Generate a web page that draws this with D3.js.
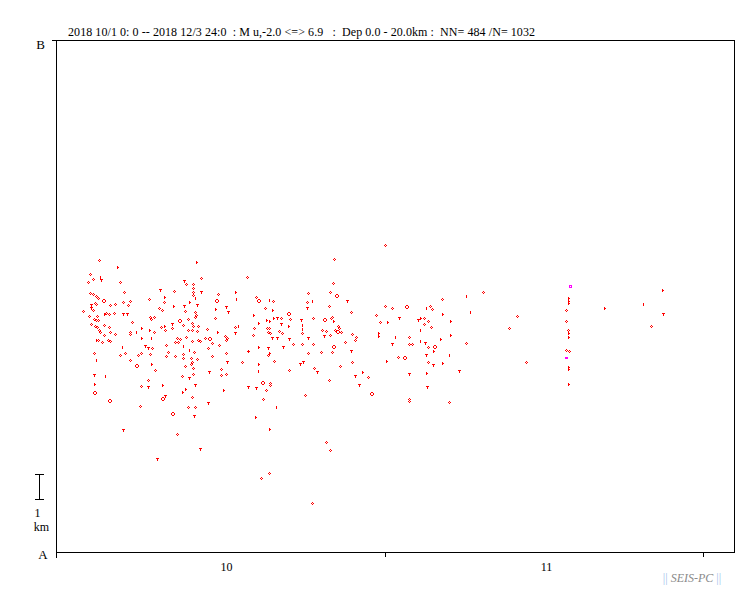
<!DOCTYPE html>
<html>
<head>
<meta charset="utf-8">
<script src="https://cdn.jsdelivr.net/npm/d3@7"></script>
<style>
body { margin: 0; background: #fff; }
text { font-family: "Times New Roman", "Liberation Serif", serif; }
</style>
</head>
<body>
<svg id="canvas" width="751" height="593"></svg>
<script>
// time axis: days since 2018-10-01 00:00, distance along A-B in km
let titleText = '2018 10/1 0: 0 -- 2018 12/3 24:0  : M u,-2.0 <=> 6.9   :  Dep 0.0 - 20.0km :  NN= 484 /N= 1032'
let monthStarts = [0, 31, 61]
let monthLabels = ['10', '11']
let monthLabelDays = [16.0, 46.2]

// event classes read from the symbols
let diamonds = [
  [3.99,11.39],[3.14,10.85],[3.43,10.65],[2.95,10.53],[5.98,10.53],[3.14,10.10],[3.40,10.08],[3.68,10.00],
  [3.84,9.91],[6.35,10.14],[3.59,9.74],[3.65,9.67],[5.03,9.64],[5.50,9.67],[6.92,9.79],[6.73,9.64],
  [2.48,9.40],[3.05,9.21],[3.43,9.45],[3.78,9.23],[3.52,9.10],[3.71,9.06],[3.90,9.06],[4.60,9.32],
  [4.91,9.30],[5.35,9.32],[7.05,8.98],[3.24,8.91],[3.56,8.83],[3.78,8.78],[4.44,8.88],[4.94,8.78],
  [3.96,8.67],[4.06,8.59],[5.03,8.59],[3.84,8.27],[4.47,8.46],[4.22,8.20],[4.79,8.28],[5.00,8.24],
  [5.50,8.52],[6.92,8.59],[6.92,8.53],[6.20,9.77],[8.71,9.87],[8.75,9.19],[8.85,9.10],[9.13,9.19],
  [9.16,8.59],[9.63,9.53],[9.94,9.45],[10.13,9.75],[11.07,10.18],[12.18,10.46],[12.81,10.46],[13.62,10.69],
  [12.81,10.30],[12.81,10.14],[12.81,10.04],[12.08,9.43],[13.03,9.39],[13.15,9.26],[13.03,9.17],[12.39,9.09],
  [10.89,8.75],[11.87,8.85],[12.74,8.96],[12.81,8.83],[13.28,8.83],[10.20,8.67],[9.79,8.78],[12.34,8.67],
  [12.77,8.67],[13.19,8.64],[14.19,8.70],[15.23,10.07],[14.94,9.13],[16.83,8.78],[17.96,10.73],[18.57,8.74],
  [18.53,8.46],[15.89,8.43],[16.05,8.36],[15.92,8.28],[13.94,8.37],[14.66,8.15],[15.29,8.07],[11.33,8.37],
  [11.58,8.32],[12.15,8.39],[10.32,8.07],[10.51,7.80],[11.11,8.19],[11.45,8.19],[12.77,8.25],[13.34,8.28],
  [13.53,8.25],[12.93,7.80],[14.28,7.98],[15.98,7.78],[14.60,7.64],[11.92,7.72],[11.92,7.57],[12.68,7.59],
  [13.22,7.53],[11.11,7.64],[10.29,7.66],[8.75,7.75],[8.97,7.98],[7.96,7.76],[7.67,7.68],[6.45,7.78],
  [5.98,7.68],[3.52,7.76],[6.92,7.49],[9.28,7.10],[12.11,7.25],[12.62,7.33],[12.84,7.19],[12.72,7.43],
  [15.51,7.14],[15.51,6.90],[15.98,6.94],[17.49,7.41],[12.84,6.94],[11.80,6.86],[7.90,6.48],[8.56,6.71],
  [12.77,6.04],[7.86,5.70],[12.34,5.65],[13.06,5.65],[11.33,4.61],
  [30.99,11.98],[26.18,11.43],[26.08,10.50],[23.72,10.10],[25.80,10.14],[18.81,9.95],[20.42,9.79],[23.57,9.77],
  [25.70,9.60],[19.66,9.52],[27.78,9.36],[30.14,9.25],[31.65,9.52],[30.99,9.61],[35.21,9.60],[35.37,9.50],
  [36.37,9.87],[40.24,10.14],[34.67,9.13],[35.05,9.01],[34.67,8.89],[35.33,8.80],[33.26,8.41],[33.26,8.11],
  [33.48,8.11],[35.02,8.00],[38.64,8.15],[30.52,8.97],[32.22,7.63],[35.05,7.41],[33.26,5.99],[33.26,5.91],
  [37.03,5.85],[29.39,6.82],[27.87,7.41],[26.74,7.25],[27.87,8.50],[28.25,8.40],[28.16,8.28],[27.21,8.19],
  [26.81,8.61],[26.24,8.67],[26.62,8.75],[26.55,8.84],[25.96,9.19],[25.86,9.13],[25.80,8.46],[25.99,7.80],
  [25.04,8.66],[25.42,8.62],[24.16,8.11],[24.95,7.80],[23.72,7.76],[24.29,7.19],[21.87,7.10],[25.70,6.71],
  [23.44,6.12],[22.30,8.11],[23.10,8.11],[23.15,8.55],[24.19,9.13],[22.02,9.09],[21.17,9.13],[20.93,8.63],
  [21.27,8.54],[19.85,8.76],[20.04,8.76],[19.95,8.58],[20.13,8.57],[19.89,7.69],[20.48,7.45],[18.06,7.86],
  [20.08,6.59],[20.08,6.51],[19.76,6.32],[19.47,5.96],[25.39,4.30],[25.77,3.98],[20.01,3.09],[19.26,2.89],
  [24.07,1.91],[43.45,9.21],[42.69,8.74],[44.30,7.41],[48.07,9.44],[48.07,9.01],[48.27,8.66],[48.07,7.88],
  [48.30,7.84],[56.10,8.81]
]
let rings = [
  [4.37,9.79],[11.55,9.03],[15.04,9.80],[14.35,8.33],[7.46,7.25],[3.46,6.22],[4.91,5.89],[9.91,5.96],
  [10.86,5.40],[26.31,9.99],[18.95,9.80],[21.78,9.28],[32.97,9.58],[35.59,8.00],[32.73,7.57],[29.64,6.16],
  [26.40,8.61],[26.02,8.00],[25.23,9.06],[19.38,6.61]
]
let tees = [
  [3.18,9.65],[3.18,9.53],[6.26,9.31],[6.64,9.28],[9.75,10.25],[11.96,10.60],[13.62,10.17],[13.19,9.65],
  [11.96,9.61],[10.89,8.89],[15.98,9.57],[16.17,9.39],[16.80,8.57],[8.56,7.97],[8.31,8.03],[16.08,7.42],
  [14.38,7.03],[12.46,6.80],[3.49,6.91],[8.62,6.46],[13.06,6.52],[10.22,6.08],[12.93,5.32],[14.28,5.83],
  [18.06,6.43],[6.23,4.77],[9.44,3.63],[13.50,4.02],[27.40,9.82],[23.57,9.53],[34.10,9.06],[34.71,8.16],
  [34.86,7.71],[32.31,9.15],[31.65,8.11],[35.52,7.29],[33.26,6.96],[37.97,7.08],[34.95,6.43],[28.54,6.51],
  [28.16,6.89],[27.75,7.86],[25.17,8.43],[24.57,7.03],[23.19,7.42],[22.94,7.36],[21.93,8.31],[21.36,8.02],
  [23.72,8.37],[23.06,9.06],[20.74,9.15],[21.17,8.89],[20.32,8.37],[20.77,8.37],[19.95,7.98],[18.81,6.42],
  [57.23,9.28],[4.18,10.61]
]
let sideTicks = [
  [4.41,9.31],[3.68,8.28],[7.93,8.74],[7.93,8.35],[8.66,8.67],[10.07,9.95],[10.92,9.60],[13.09,11.32],
  [12.43,9.78],[10.07,8.83],[16.77,10.14],[14.94,9.49],[18.53,9.27],[15.10,8.59],[8.85,7.34],[3.52,6.55],
  [9.88,6.52],[12.08,6.38],[11.77,6.24],[15.64,6.32],[20.27,9.44],[36.37,9.31],[34.26,9.13],[37.07,9.01],
  [37.07,8.46],[36.15,8.32],[35.46,7.84],[31.15,8.97],[30.27,8.54],[30.27,8.43],[31.03,7.45],[36.37,7.37],
  [34.83,6.98],[28.76,7.02],[26.08,9.01],[20.42,9.15],[21.78,8.84],[20.04,9.01],[19.73,9.06],[18.97,8.93],
  [18.97,8.00],[20.04,7.76],[18.97,7.33],[18.72,5.26],[20.01,4.80],[48.21,9.92],[48.21,9.80],[48.21,9.73],
  [48.21,8.54],[48.21,8.41],[48.21,7.24],[48.21,7.14],[48.21,6.55],[51.61,9.52],[57.08,10.22],[5.64,11.12]
]
let bars = [
  [7.43,8.59],[8.90,8.37],[13.06,9.91],[16.87,9.87],[17.06,8.83],[11.87,8.03],[12.43,7.90],[6.11,8.01],
  [3.71,7.51],[18.06,7.85],[4.56,6.89],[20.04,9.84],[24.10,9.82],[38.64,10.01],[34.83,9.53],[39.01,9.39],
  [34.29,8.68],[34.26,8.25],[37.03,7.69],[31.93,8.39],[23.13,8.87],[23.13,8.71],[19.00,7.08],[20.70,5.68],
  [55.34,9.70],[4.09,10.74]
]
let bigOpen = [[48.45,10.38]]
let bigFilled = [[48.07,7.63]]

let canvas = d3.select('#canvas')

let x = d3.scaleLinear().domain([0, 64]).range([57, 735])
let y = d3.scaleLinear().domain([0, 20]).range([552, 40])

canvas.append('rect').attr('width', 751).attr('height', 593).attr('fill', '#fff')

// frame
let frame = canvas.append('g').attr('stroke', '#000').attr('stroke-width', 1).attr('shape-rendering', 'crispEdges')
frame.append('line').attr('x1', x(0) - 5).attr('x2', x(64)).attr('y1', y(20) + 0.5).attr('y2', y(20) + 0.5)
frame.append('line').attr('x1', x(0) - 1).attr('x2', x(64)).attr('y1', y(0) + 0.5).attr('y2', y(0) + 0.5)
frame.append('line').attr('x1', x(0) - 0.5).attr('x2', x(0) - 0.5).attr('y1', y(20)).attr('y2', y(0) + 6)
frame.append('line').attr('x1', x(64) - 0.5).attr('x2', x(64) - 0.5).attr('y1', y(20)).attr('y2', y(0) + 1)

// month boundary ticks
frame.selectAll('.mtick')
  .data(monthStarts.slice(1))
  .enter()
  .append('line')
  .attr('x1', (d) => Math.round(x(d)) + 0.5)
  .attr('x2', (d) => Math.round(x(d)) + 0.5)
  .attr('y1', y(0) + 1)
  .attr('y2', y(0) + 5)

canvas.selectAll('.mlabel')
  .data(monthLabels)
  .enter()
  .append('text')
  .attr('x', (d, i) => x(monthLabelDays[i]))
  .attr('y', 571)
  .attr('text-anchor', 'middle')
  .attr('font-size', '12px')
  .text((d) => d)

// title
canvas.append('text').attr('x', 68).attr('y', 36).attr('font-size', '12px')
  .attr('textLength', 467).attr('lengthAdjust', 'spacing')
  .attr('xml:space', 'preserve').style('white-space', 'pre').text(titleText)

canvas.append('text').attr('x', 40.5).attr('y', 49).attr('text-anchor', 'middle').attr('font-size', '13px').text('B')
canvas.append('text').attr('x', 43).attr('y', 559).attr('text-anchor', 'middle').attr('font-size', '13px').text('A')

// 1 km scale bar
let barBottom = 499.5
let barLen = y(0) - y(1)
let sb = canvas.append('g').attr('stroke', '#000').attr('shape-rendering', 'crispEdges')
sb.append('line').attr('x1', 39.5).attr('x2', 39.5).attr('y1', barBottom - barLen).attr('y2', barBottom)
sb.append('line').attr('x1', 35).attr('x2', 44).attr('y1', Math.round(barBottom - barLen) + 0.5).attr('y2', Math.round(barBottom - barLen) + 0.5)
sb.append('line').attr('x1', 35).attr('x2', 44).attr('y1', barBottom).attr('y2', barBottom)
canvas.append('text').attr('x', 37.5).attr('y', 517).attr('text-anchor', 'middle').attr('font-size', '12px').text('1')
canvas.append('text').attr('x', 41.5).attr('y', 531).attr('text-anchor', 'middle').attr('font-size', '12px').text('km')

// footer
let foot = canvas.append('text').attr('x', 692).attr('y', 582).attr('text-anchor', 'middle').attr('font-size', '12px')
  .attr('xml:space', 'preserve').style('white-space', 'pre')
foot.append('tspan').attr('fill', '#a0bfec').text('|| ')
foot.append('tspan').attr('fill', '#8a8a8a').attr('font-style', 'italic').text('SEIS-PC')
foot.append('tspan').attr('fill', '#a0bfec').text(' ||')

// symbols as pixel patterns
let shapes = {
  diamond: [[-1,0],[1,0],[0,-1],[0,1]],
  ring: [[0,-2],[1,-2],[-1,-1],[2,-1],[-1,0],[2,0],[0,1],[1,1]],
  tee: [[-1,-1],[0,-1],[1,-1],[0,0],[0,1]],
  side: [[0,-1],[0,0],[0,1],[1,0]],
  bar: [[0,-1],[0,0],[0,1]],
  open: [[-1,-1],[0,-1],[1,-1],[-1,0],[1,0],[-1,1],[0,1],[1,1]],
  filled: [[-1,0],[0,0],[1,0],[-1,1],[0,1],[1,1]]
}

let pixPath = (d, pattern) => {
  let cx = Math.round(x(d[0]))
  let cy = Math.round(y(d[1]))
  return pattern.map((p) => 'M' + (cx + p[0]) + ',' + (cy + p[1]) + 'h1v1h-1z').join('')
}

let drawSet = (data, pattern, color) => {
  canvas.append('g')
    .selectAll('path')
    .data(data)
    .enter()
    .append('path')
    .attr('d', (d) => pixPath(d, pattern))
    .attr('fill', color)
    .attr('shape-rendering', 'crispEdges')
}

drawSet(diamonds, shapes.diamond, '#ff0000')
drawSet(rings, shapes.ring, '#ff0000')
drawSet(tees, shapes.tee, '#ff0000')
drawSet(sideTicks, shapes.side, '#ff0000')
drawSet(bars, shapes.bar, '#ff0000')
drawSet(bigOpen, shapes.open, '#ff00ff')
drawSet(bigFilled, shapes.filled, '#ff00ff')
</script>
</body>
</html>
